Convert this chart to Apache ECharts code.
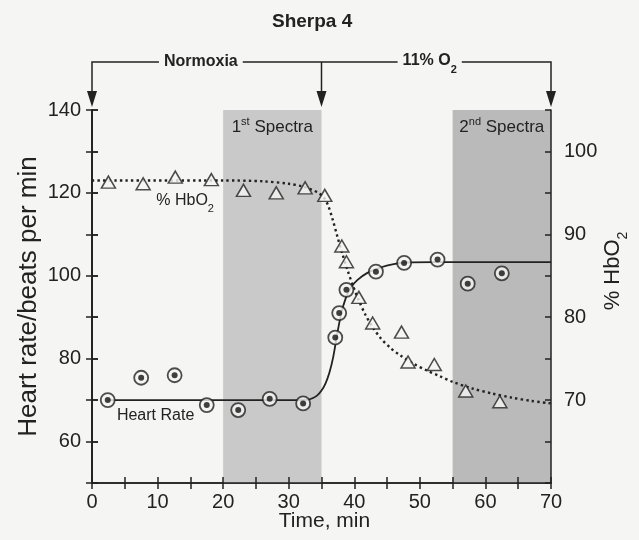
<!DOCTYPE html>
<html>
<head>
<meta charset="utf-8">
<script src="https://cdn.jsdelivr.net/npm/echarts@6/dist/echarts.min.js"></script>
<style>
  html, body { margin: 0; padding: 0; background: #f5f5f3; }
  #chart { width: 639px; height: 540px; }
</style>
</head>
<body>
<div id="chart"></div>
<script>
// heart rate readings (circles with dot), left axis
const hrTime = [2.4, 7.5, 12.6, 17.5, 22.3, 27.1, 32.2, 37.1, 37.7, 38.8, 43.3, 47.6, 52.7, 57.3, 62.5];
const hrValue = [70.0, 75.4, 76.0, 68.8, 67.6, 70.3, 69.2, 85.1, 91.0, 96.6, 101.0, 103.1, 103.9, 98.1, 100.6];

// % HbO2 readings (open triangles), right axis
const hbTime = [2.5, 7.8, 12.7, 18.2, 23.1, 28.1, 32.5, 35.5, 38.1, 38.8, 40.7, 42.8, 47.2, 48.2, 52.2, 57.0, 62.2];
const hbValue = [96.3, 96.1, 96.9, 96.6, 95.3, 95.0, 95.6, 94.7, 88.6, 86.7, 82.4, 79.3, 78.2, 74.6, 74.3, 71.1, 69.8];

// fitted curves
const hrFitTime = [2.4, 32, 33, 33.7, 34.4, 35, 35.6, 36.2, 36.8, 37.4, 38, 38.7, 39.5, 40.5, 42, 44, 46, 48, 52, 70];
const hrFitValue = [70, 70, 70.1, 70.5, 71.2, 72.3, 74, 76.6, 80.5, 86, 90.8, 94.6, 97.2, 99, 100.7, 102, 102.8, 103.2, 103.3, 103.3];
const hbFitTime = [0, 20, 26, 30, 32, 33.5, 34.5, 35.3, 36, 36.7, 37.4, 38.2, 39, 39.8, 40.7, 41.7, 42.8, 44, 45.5, 47, 49, 51, 53, 55, 58, 61, 64, 67, 70];
const hbFitValue = [96.5, 96.5, 96.4, 96.1, 95.8, 95.4, 95.0, 94.5, 93.5, 91.8, 89.8, 87.6, 85.6, 83.8, 82.0, 80.3, 78.8, 77.5, 76.3, 75.4, 74.4, 73.6, 72.9, 72.2, 71.4, 70.8, 70.3, 69.9, 69.6];

// spectra windows (min) and their labels
const spectraStart = [20, 55];
const spectraEnd = [35, 70];
const spectraNum = ['1', '2'];
const spectraSup = ['st', 'nd'];

// phase arrows (min)
const phaseMarks = [0, 35, 70];

const font = 'Liberation Sans, Arial, Helvetica, sans-serif';
const ink = '#222';
const paper = '#f5f5f3';
const shades = ['#c9c9c9', '#bababa'];

const pairs = (xs, ys) => xs.map((x, i) => [x, ys[i]]);

const chart = echarts.init(document.getElementById('chart'));

const axisLine = { lineStyle: { color: ink, width: 1.5 } };
const tickOut = { show: true, inside: false, length: 6, lineStyle: { color: ink, width: 1.5 } };
const tickIn = { show: true, inside: true, length: 6, lineStyle: { color: ink, width: 1.5 } };
const labelStyle = { color: ink, fontFamily: font, fontSize: 20 };

const option = {
  backgroundColor: paper,
  animation: false,
  title: {
    text: 'Sherpa 4',
    left: 272,
    top: 12,
    padding: 0,
    textStyle: { fontFamily: font, fontSize: 19, fontWeight: 'bold', color: ink }
  },
  grid: { left: 92, right: 88, top: 110, bottom: 57 },
  xAxis: [
    {
      type: 'value', min: 0, max: 70, interval: 5, position: 'bottom',
      axisLine, axisTick: tickOut, splitLine: { show: false },
      axisLabel: Object.assign({ margin: 9, formatter: v => (v % 10 === 0 ? v : '') }, labelStyle),
      name: 'Time, min', nameLocation: 'middle', nameGap: 28, nameMoveOverlap: false,
      nameTextStyle: { fontFamily: font, fontSize: 21, color: ink, padding: [0, 0, 0, 6] }
    },
    {
      type: 'value', min: 0, max: 70, interval: 5, position: 'bottom', z: 5,
      axisLine, axisTick: tickIn, axisLabel: { show: false }, splitLine: { show: false }
    }
  ],
  yAxis: [
    {
      type: 'value', min: 50, max: 140, interval: 10, position: 'left',
      axisLine, axisTick: tickOut, splitLine: { show: false },
      axisLabel: Object.assign({ margin: 11, formatter: v => (v % 20 === 0 && v >= 60 ? v : '') }, labelStyle),
      name: 'Heart rate/beats per min', nameLocation: 'middle', nameGap: 50, nameRotate: 90,
      nameMoveOverlap: false,
      nameTextStyle: { fontFamily: font, fontSize: 26, color: ink }
    },
    {
      type: 'value', min: 60, max: 105, interval: 5, position: 'right',
      axisLine, axisTick: tickOut, splitLine: { show: false },
      axisLabel: Object.assign({ margin: 13, formatter: v => (v % 10 === 0 && v >= 70 && v <= 100 ? v : '') }, labelStyle)
    },
    {
      type: 'value', min: 50, max: 140, interval: 10, position: 'left', z: 5,
      axisLine, axisTick: tickIn, axisLabel: { show: false }, splitLine: { show: false }
    },
    {
      type: 'value', min: 60, max: 105, interval: 5, position: 'right', z: 5,
      axisLine, axisTick: tickIn, axisLabel: { show: false }, splitLine: { show: false }
    }
  ],
  series: [
    {
      name: 'Heart rate fit',
      type: 'line',
      xAxisIndex: 0, yAxisIndex: 0,
      data: pairs(hrFitTime, hrFitValue),
      showSymbol: false,
      smooth: 0.3,
      lineStyle: { color: ink, width: 1.8 },
      z: 3,
      markArea: {
        silent: true,
        data: spectraStart.map((s, i) => [
          {
            xAxis: s,
            itemStyle: { color: shades[i] },
            label: {
              show: true, position: 'insideTop', distance: 6,
              formatter: '{n|' + spectraNum[i] + '}{s|' + spectraSup[i] + '}{n| Spectra}',
              rich: {
                n: { fontFamily: font, fontSize: 17, color: ink, lineHeight: 20, verticalAlign: 'bottom' },
                s: { fontFamily: font, fontSize: 11, color: ink, lineHeight: 20, verticalAlign: 'top' }
              }
            }
          },
          { xAxis: spectraEnd[i] }
        ])
      }
    },
    {
      name: '% HbO2 fit',
      type: 'line',
      xAxisIndex: 0, yAxisIndex: 1,
      data: pairs(hbFitTime, hbFitValue),
      showSymbol: false,
      smooth: 0.3,
      lineStyle: { color: ink, width: 2.4, type: [2.4, 3.2] },
      z: 3
    },
    {
      name: 'Heart rate',
      type: 'scatter',
      xAxisIndex: 0, yAxisIndex: 0,
      data: pairs(hrTime, hrValue),
      symbol: 'circle', symbolSize: 14,
      itemStyle: { color: paper, borderColor: ink, borderWidth: 1.8 },
      z: 4
    },
    {
      name: 'Heart rate dot',
      type: 'scatter',
      xAxisIndex: 0, yAxisIndex: 0,
      data: pairs(hrTime, hrValue),
      symbol: 'circle', symbolSize: 6,
      itemStyle: { color: '#111' },
      z: 5
    },
    {
      name: '% HbO2',
      type: 'scatter',
      xAxisIndex: 0, yAxisIndex: 1,
      data: pairs(hbTime, hbValue),
      symbol: 'triangle', symbolSize: [14, 12],
      itemStyle: { color: paper, borderColor: ink, borderWidth: 1.5 },
      z: 4
    }
  ]
};

chart.setOption(option);

// annotations placed from axis coordinates
const px = (x, y) => chart.convertToPixel({ xAxisIndex: 0, yAxisIndex: 0 }, [x, y]);
const gridTop = px(0, 140)[1];
const xs = phaseMarks.map(m => px(m, 140)[0]);
const bracketY = 62;
const tipY = gridTop - 3;
const headLen = 16;
const headW = 5;

const arrowHead = x => ({
  type: 'polygon', z: 10,
  shape: { points: [[x - headW, tipY - headLen], [x + headW, tipY - headLen], [x, tipY]] },
  style: { fill: ink }
});

const graphic = [
  {
    type: 'polyline', z: 10,
    shape: { points: [[xs[0], tipY - headLen + 2], [xs[0], bracketY], [xs[2], bracketY], [xs[2], tipY - headLen + 2]] },
    style: { stroke: ink, lineWidth: 1.5, fill: null }
  },
  {
    type: 'line', z: 10,
    shape: { x1: xs[1], y1: bracketY, x2: xs[1], y2: tipY - headLen + 2 },
    style: { stroke: ink, lineWidth: 1.5 }
  },
  arrowHead(xs[0]), arrowHead(xs[1]), arrowHead(xs[2]),
  {
    type: 'text', z: 11,
    x: px(16.6, 0)[0], y: bracketY,
    style: {
      text: 'Normoxia', font: 'bold 16px ' + font, fill: ink,
      align: 'center', verticalAlign: 'middle',
      backgroundColor: paper, padding: [2, 5]
    }
  },
  {
    type: 'text', z: 11,
    x: px(51.5, 0)[0], y: bracketY + 2,
    style: {
      text: '{b|11% O}{s|2}',
      align: 'center', verticalAlign: 'middle',
      backgroundColor: paper, padding: [0, 5],
      rich: {
        b: { font: 'bold 16px ' + font, fill: ink, lineHeight: 22, verticalAlign: 'top' },
        s: { font: 'bold 11px ' + font, fill: ink, lineHeight: 22, verticalAlign: 'bottom' }
      }
    }
  },
  {
    type: 'text', z: 11,
    x: px(14.2, 118)[0], y: px(14.2, 118)[1] + 2,
    style: {
      text: '{n|% HbO}{s|2}',
      align: 'center', verticalAlign: 'middle',
      rich: {
        n: { font: '16px ' + font, fill: ink, lineHeight: 22, verticalAlign: 'top' },
        s: { font: '11px ' + font, fill: ink, lineHeight: 22, verticalAlign: 'bottom' }
      }
    }
  },
  {
    type: 'text', z: 11,
    x: px(9.7, 66.7)[0], y: px(9.7, 66.7)[1] + 2,
    style: {
      text: 'Heart Rate', font: '16px ' + font, fill: ink,
      align: 'center', verticalAlign: 'middle'
    }
  },
  {
    type: 'text', z: 11,
    x: 616, y: 271, rotation: Math.PI / 2,
    style: {
      text: '{n|% HbO}{s|2}',
      align: 'center', verticalAlign: 'middle',
      rich: {
        n: { font: '22px ' + font, fill: ink, lineHeight: 28, verticalAlign: 'top' },
        s: { font: '14px ' + font, fill: ink, lineHeight: 28, verticalAlign: 'bottom' }
      }
    }
  }
];

chart.setOption({ graphic });
</script>
</body>
</html>
